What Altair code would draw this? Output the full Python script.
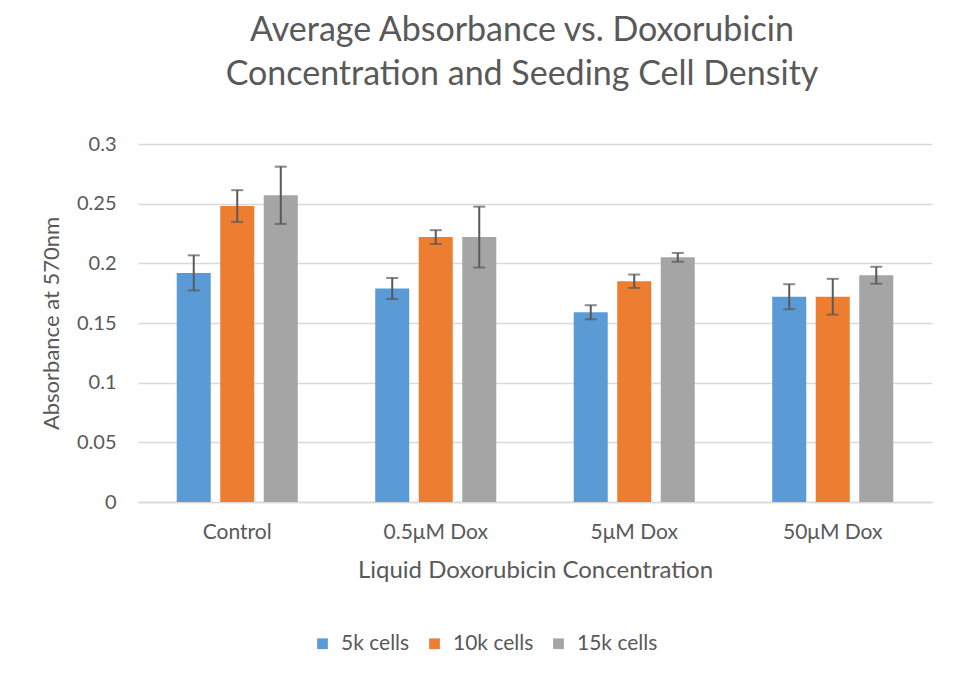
import altair as alt
import pandas as pd

categories = ["Control", "0.5μM Dox", "5μM Dox", "50μM Dox"]
series = ["5k cells", "10k cells", "15k cells"]
v5k = [0.192, 0.179, 0.159, 0.172]
v10k = [0.248, 0.222, 0.185, 0.172]
v15k = [0.257, 0.222, 0.205, 0.190]
e5k = [0.0147, 0.0088, 0.0059, 0.0105]
e10k = [0.0133, 0.0058, 0.0056, 0.0150]
e15k = [0.0240, 0.0255, 0.0037, 0.0071]
colors = ["#5B9BD5", "#ED7D31", "#A5A5A5"]
y_ticks = [0, 0.05, 0.1, 0.15, 0.2, 0.25, 0.3]

rows = []
for s, vals, errs in zip(series, [v5k, v10k, v15k], [e5k, e10k, e15k]):
    for c, v, e in zip(categories, vals, errs):
        rows.append({"cat": c, "series": s, "value": v, "err": e})
df = pd.DataFrame(rows)

FONT = "Lato"
GREY = "#595959"

x_enc = alt.X("cat:N", sort=categories,
              scale=alt.Scale(paddingInner=0, paddingOuter=0),
              axis=alt.Axis(title="Liquid Doxorubicin Concentration", labelAngle=0,
                            labelFontSize=21, titleFontSize=24, labelColor=GREY,
                            titleColor=GREY, labelFont=FONT, titleFont=FONT,
                            titleFontWeight="normal", ticks=False, domainColor="#D9D9D9",
                            domainWidth=1.5, labelPadding=19, titlePadding=16))
xo_enc = alt.XOffset("series:N", sort=series,
                     scale=alt.Scale(paddingInner=0.218, paddingOuter=0.89))

base = alt.Chart(df).encode(x=x_enc, xOffset=xo_enc)

bars = base.mark_bar().encode(
    y=alt.Y("value:Q",
            scale=alt.Scale(domain=[0, 0.3], nice=False),
            axis=alt.Axis(title="Absorbance at 570nm", values=y_ticks, format="~g",
                          labelFontSize=20, titleFontSize=22, labelColor=GREY,
                          titleColor=GREY, labelFont=FONT, titleFont=FONT,
                          titleFontWeight="normal", ticks=False, domain=False,
                          gridColor="#D9D9D9", gridWidth=1.5, labelPadding=22,
                          titlePadding=13)),
    color=alt.Color("series:N", sort=series,
                    scale=alt.Scale(domain=series, range=colors),
                    legend=alt.Legend(title=None, orient="none", direction="horizontal",
                                      legendX=174, legendY=489, labelFontSize=21,
                                      labelFont=FONT, labelColor=GREY, symbolType="square",
                                      symbolSize=115, symbolStrokeWidth=0,
                                      columnPadding=14, labelOffset=8)),
)

err = base.transform_calculate(
    lo="datum.value - datum.err", hi="datum.value + datum.err"
)
rules = err.mark_rule(color=GREY, strokeWidth=2).encode(y="lo:Q", y2="hi:Q")
cap_hi = err.mark_tick(color=GREY, thickness=2, size=12).encode(y="hi:Q")
cap_lo = err.mark_tick(color=GREY, thickness=2, size=12).encode(y="lo:Q")

chart = alt.layer(bars, rules, cap_hi, cap_lo).properties(
    width=794, height=358,
    title=alt.TitleParams(["Average Absorbance vs. Doxorubicin",
                           "Concentration and Seeding Cell Density"],
                          fontSize=34, font=FONT, fontWeight="normal", color=GREY,
                          anchor="middle", dx=-13, offset=42, lineHeight=44),
    autosize=alt.AutoSizeParams(type="none"),
    padding={"left": 130, "top": 136, "right": 20, "bottom": 160},
).configure(background="white").configure_view(stroke=None)

chart.save("out.html", embed_options={"renderer": "svg", "actions": False})
